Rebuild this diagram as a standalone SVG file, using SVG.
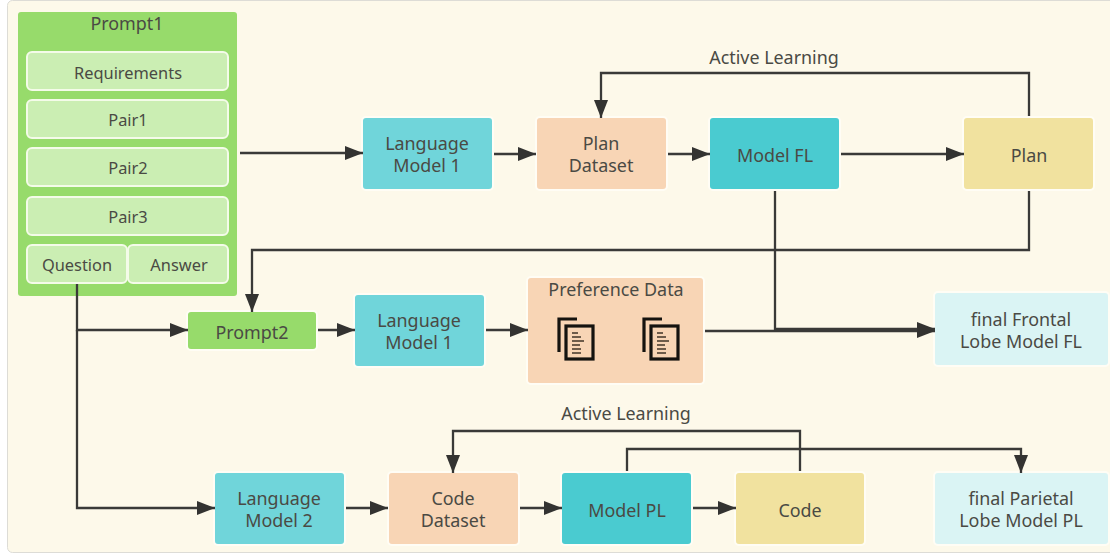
<svg xmlns="http://www.w3.org/2000/svg" width="1110" height="554" viewBox="0 0 1110 554">
<style>
text{font-family:"Noto Sans","Open Sans","Liberation Sans",sans-serif;font-size:17.9px;fill:#4a4a44;text-anchor:middle}
.s{font-size:16.400px}
.n{stroke:#fffdf5;stroke-width:2}
.teal{fill:#70d5da}.peach{fill:#f8d5b5}.dark{fill:#4acbd0}.yellow{fill:#f1e29f}.pale{fill:#daf4f4}
.green{fill:#97db6b}.inner{fill:#cbeeb3;stroke:#f4fbe9;stroke-width:2}
.c{fill:none;stroke:#3a3a38;stroke-width:2.300}
.a{marker-end:url(#arrow)}
.doc{fill:none;stroke:#15130f;stroke-width:3.200}
.ln{stroke:#6e5c4a;stroke-width:2}
</style>
<defs>
<marker id="arrow" markerUnits="userSpaceOnUse" markerWidth="19" markerHeight="14" refX="18" refY="7" orient="auto"><path d="M0 0L18 7L0 14Z" fill="#333331"/></marker>
<g id="docs">
<path class="doc" d="M15 0H-3V33"/>
<rect class="doc" x="4" y="7" width="27" height="33"/>
<path class="ln" d="M10 14h6M10 18h9M10 22h12M10 26h8M10 30h9M10 34h9"/>
</g>
</defs>
<rect x="0" y="0" width="1110" height="554" fill="#ffffff"/>
<rect x="7.500" y="0.500" width="1110" height="552" rx="5" fill="#fdf9ea" stroke="#dddcd6"/>
<g id="prompt1">
<rect class="green" x="18" y="12" width="219" height="284" rx="3"/>
<text x="127" y="30">Prompt1</text>
<rect class="inner" x="27" y="52" width="201" height="38" rx="5"/><text class="s" x="128" y="79">Requirements</text>
<rect class="inner" x="27" y="100" width="201" height="38" rx="5"/><text class="s" x="128" y="126">Pair1</text>
<rect class="inner" x="27" y="148" width="201" height="38" rx="5"/><text class="s" x="128" y="174">Pair2</text>
<rect class="inner" x="27" y="197" width="201" height="38" rx="5"/><text class="s" x="128" y="223">Pair3</text>
<rect class="inner" x="27" y="245" width="100" height="38" rx="5"/><text class="s" x="77" y="271">Question</text>
<rect class="inner" x="128" y="245" width="100" height="38" rx="5"/><text class="s" x="179" y="271">Answer</text>
</g>
<g id="lm1"><rect class="n teal" x="362" y="117" width="131" height="73" rx="4"/><text x="427" y="150">Language</text><text x="427" y="172">Model 1</text></g>
<g id="plan-dataset"><rect class="n peach" x="536" y="117" width="131" height="73" rx="4"/><text x="601" y="150">Plan</text><text x="601" y="172">Dataset</text></g>
<g id="model-fl"><rect class="n dark" x="709" y="117" width="131" height="73" rx="4"/><text x="775" y="162">Model FL</text></g>
<g id="plan"><rect class="n yellow" x="963" y="117" width="131" height="73" rx="4"/><text x="1029" y="162">Plan</text></g>
<g id="prompt2"><rect class="n green" x="187" y="311" width="130" height="39" rx="4"/><text x="252" y="339">Prompt2</text></g>
<g id="lm1b"><rect class="n teal" x="354" y="294" width="131" height="73" rx="4"/><text x="419" y="327">Language</text><text x="419" y="349">Model 1</text></g>
<g id="pref"><rect class="n peach" x="527" y="277" width="177" height="107" rx="4"/><text x="616" y="296">Preference Data</text>
<use href="#docs" transform="translate(562,319)"/><use href="#docs" transform="translate(647,319)"/></g>
<g id="final-fl"><rect class="n pale" x="934" y="292" width="175" height="74" rx="4"/><text x="1021" y="326">final Frontal</text><text x="1021" y="348">Lobe Model FL</text></g>
<text id="al1" x="774" y="64">Active Learning</text>
<text id="al2" x="626" y="420">Active Learning</text>
<g id="lm2"><rect class="n teal" x="214" y="472" width="131" height="73" rx="4"/><text x="279" y="505">Language</text><text x="279" y="527">Model 2</text></g>
<g id="code-dataset"><rect class="n peach" x="388" y="472" width="131" height="73" rx="4"/><text x="453" y="505">Code</text><text x="453" y="527">Dataset</text></g>
<g id="model-pl"><rect class="n dark" x="561" y="472" width="131" height="73" rx="4"/><text x="627" y="517">Model PL</text></g>
<g id="code"><rect class="n yellow" x="735" y="472" width="130" height="73" rx="4"/><text x="800" y="517">Code</text></g>
<g id="final-pl"><rect class="n pale" x="934" y="472" width="175" height="73" rx="4"/><text x="1021" y="505">final Parietal</text><text x="1021" y="527">Lobe Model PL</text></g>
<g id="connectors">
<path class="c a" d="M240 153H363"/>
<path class="c a" d="M494 154H536"/>
<path class="c a" d="M668 154H710"/>
<path class="c a" d="M841 154H964"/>
<path class="c a" d="M1029 116V73H601V118"/>
<path class="c a" d="M1029 191V250H252V312"/>
<path class="c a" d="M77 284V330H188"/>
<path class="c a" d="M77 330V508H215"/>
<path class="c a" d="M318 330H355"/>
<path class="c a" d="M486 330H528"/>
<path class="c a" d="M705 331H935"/>
<path class="c a" d="M775 191V329H935"/>
<path class="c a" d="M346 508H388"/>
<path class="c a" d="M520 508H562"/>
<path class="c a" d="M693 508H736"/>
<path class="c a" d="M800 471V431H453V473"/>
<path class="c a" d="M627 471V449H1021V473"/>
</g>
</svg>
